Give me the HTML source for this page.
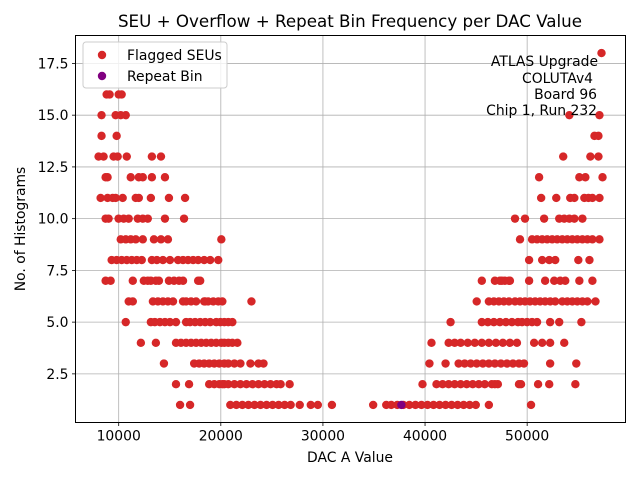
<!DOCTYPE html>
<html><head><meta charset="utf-8"><style>
html,body{margin:0;padding:0;background:#fff}
svg{display:block;font-family:"DejaVu Sans","Liberation Sans",sans-serif}
</style></head><body>
<svg id="chart" width="640" height="480" viewBox="0 0 640 480" xmlns="http://www.w3.org/2000/svg">
<rect x="0" y="0" width="640" height="480" fill="#fff"/>
<g id="grid"></g>
<g id="marks"></g>
<rect x="75.5" y="35.5" width="550" height="387" fill="none" stroke="#000" stroke-width="1"/>
<g id="ticks"></g>
<text x="350" y="27" text-anchor="middle" font-size="16.7">SEU + Overflow + Repeat Bin Frequency per DAC Value</text>
<text x="350" y="462" text-anchor="middle" font-size="13.9">DAC A Value</text>
<text x="0" y="0" transform="translate(25,229) rotate(-90)" text-anchor="middle" font-size="13.9">No. of Histograms</text>
<g font-size="13.9" text-anchor="end">
<text x="598" y="66">ATLAS Upgrade</text>
<text x="593" y="83">COLUTAv4</text>
<text x="597" y="99">Board 96</text>
<text x="597" y="115">Chip 1, Run 232</text>
</g>
<g>
<rect x="83" y="42" width="144" height="46" rx="3" fill="#fff" fill-opacity="0.8" stroke="#ccc"/>
<circle cx="102" cy="55" r="4.2" fill="#d62728"/>
<text x="127" y="60" font-size="13.9">Flagged SEUs</text>
<circle cx="102" cy="76" r="4.2" fill="#800080"/>
<text x="127" y="81" font-size="13.9">Repeat Bin</text>
</g>
</svg>
<script>
const xTicks = [10000, 20000, 30000, 40000, 50000];
const yTicks = [2.5, 5.0, 7.5, 10.0, 12.5, 15.0, 17.5];
const yTickLabels = ["2.5", "5.0", "7.5", "10.0", "12.5", "15.0", "17.5"];
const repeatDac = [37680];
const repeatCount = [1];
const seuPoints = [
[8820,16],[9110,16],[10000,16],[10290,16],
[8320,15],[9700,15],[10200,15],[10690,15],
[8320,14],[9800,14],
[8030,13],[8520,13],[9500,13],[9900,13],[10790,13],[13250,13],[14140,13],
[8720,12],[8910,12],[11180,12],[11970,12],[12360,12],[13250,12],[14530,12],
[8230,11],[8910,11],[9410,11],[9700,11],[10390,11],[11670,11],[11970,11],[13150,11],[14920,11],[16500,11],
[8720,10],[9010,10],[9990,10],[10490,10],[10980,10],[11870,10],[12360,10],[12850,10],[14530,10],[16400,10],
[10200,9],[10690,9],[11180,9],[11670,9],[12360,9],[13450,9],[14140,9],[14820,9],[20050,9],
[9310,8],[9800,8],[10290,8],[10790,8],[11280,8],[11770,8],[12260,8],[13250,8],[13740,8],[14330,8],[15020,8],[15810,8],[16300,8],[16790,8],[17290,8],[17780,8],[18370,8],[18960,8],[19750,8],
[8720,7],[9210,7],[11380,7],[12460,7],[12850,7],[13150,7],[13640,7],[13940,7],[14920,7],[15420,7],[15910,7],[16300,7],[17780,7],[17980,7],
[10980,6],[11380,6],[13350,6],[13840,6],[14330,6],[14820,6],[15320,6],[16300,6],[16600,6],[17090,6],[17580,6],[18370,6],[18760,6],[19260,6],[19750,6],[18470,6],[20150,6],[23000,6],
[10690,5],[13150,5],[13540,5],[14040,5],[14530,5],[15020,5],[15610,5],[16600,5],[16990,5],[17480,5],[17980,5],[18470,5],[18960,5],[19550,5],[19950,5],[20340,5],[20730,5],[21130,5],
[12170,4],[13640,4],[15610,4],[16100,4],[16600,4],[17090,4],[17580,4],[18080,4],[18570,4],[19060,4],[19550,4],[20050,4],[20340,4],[20730,4],[21130,4],[21620,4],
[14430,3],[17390,3],[17880,3],[18370,3],[18860,3],[19360,3],[19850,3],[20340,3],[20730,3],[21330,3],[21920,3],[22900,3],[23690,3],[24180,3],
[15610,2],[16890,2],[18860,2],[19360,2],[19850,2],[20340,2],[20150,2],[20730,2],[21330,2],[21920,2],[22510,2],[23100,2],[23690,2],[24280,2],[24870,2],[25460,2],[25860,2],[26740,2],
[16010,1],[16990,1],[20930,1],[21520,1],[22110,1],[22700,1],[23300,1],[23890,1],[24480,1],[25070,1],[25660,1],[26250,1],[26840,1],[27730,1],[28810,1],[29500,1],[30880,1],[34920,1],
[36200,1],[36690,1],[37280,1],[37870,1],[38460,1],[39060,1],[39650,1],[40240,1],[40830,1],[41420,1],[42010,1],[42600,1],[43190,1],[43780,1],[44370,1],[44970,1],[46250,1],[50380,1],
[39750,2],[41120,2],[41720,2],[42310,2],[42900,2],[43490,2],[44080,2],[44670,2],[45260,2],[45850,2],[46540,2],[47130,2],[46840,2],[49200,2],[49400,2],[51070,2],[52160,2],[54720,2],
[40430,3],[42010,3],[43290,3],[43880,3],[44470,3],[45060,3],[45660,3],[46250,3],[46840,3],[47430,3],[48020,3],[48610,3],[49200,3],[49690,3],[52250,3],[54810,3],
[40630,4],[42310,4],[42900,4],[43490,4],[44180,4],[44870,4],[45560,4],[46250,4],[46940,4],[47620,4],[48310,4],[49000,4],[50680,4],[51470,4],[52250,4],[53630,4],
[42500,5],[45560,5],[46150,5],[46740,5],[47330,5],[47920,5],[48510,5],[49100,5],[49500,5],[49990,5],[50480,5],[50970,5],[52250,5],[53140,5],[55310,5],
[45060,6],[46250,6],[46740,6],[47230,6],[47720,6],[48220,6],[48810,6],[49300,6],[49790,6],[50280,6],[50780,6],[51270,6],[51760,6],[52260,6],[52750,6],[53440,6],[53930,6],[54420,6],[54910,6],[55410,6],[55900,6],[56690,6],
[45560,7],[46840,7],[47330,7],[47820,7],[48310,7],[47530,7],[48220,7],[50190,7],[51760,7],[52650,7],[53240,7],[53730,7],[55110,7],[56390,7],
[50190,8],[51470,8],[52160,8],[52750,8],[55010,8],[56100,8],
[49300,9],[50480,9],[50970,9],[51470,9],[51960,9],[52450,9],[52940,9],[53440,9],[53930,9],[54420,9],[54910,9],[55410,9],[55900,9],[56390,9],[57080,9],
[48810,10],[49790,10],[51660,10],[53140,10],[53630,10],[54130,10],[54620,10],[55410,10],
[51370,11],[52850,11],[54220,11],[54620,11],[55600,11],[56000,11],[56390,11],[57080,11],
[51170,12],[55110,12],[55700,12],[57380,12],
[53530,13],[56190,13],[56980,13],
[56590,14],[56980,14],
[54130,15],[57080,15],
[57280,18]
];

const NS = "http://www.w3.org/2000/svg";
const L = 75.5, R = 625.5, T = 35.5, B = 422.5;
const xMin = 5770, xMax = 59630, yMin = 0.15, yMax = 18.85;
function xs(v){ return L + (v - xMin) / (xMax - xMin) * (R - L); }
function ys(v){ return B - (v - yMin) / (yMax - yMin) * (B - T); }

const grid = document.getElementById('grid');
const ticks = document.getElementById('ticks');
const marks = document.getElementById('marks');
function mk(tag, attrs, parent){ const e = document.createElementNS(NS, tag); for (const k in attrs) e.setAttribute(k, attrs[k]); parent.appendChild(e); return e; }

xTicks.forEach(function(v){
  const x = xs(v);
  const g = mk('line', {x1:x, x2:x, y1:T, y2:B, stroke:'#b0b0b0', 'stroke-width':0.8}, grid);
  
  
  const t = mk('line', {x1:x, x2:x, y1:B, y2:B+3.5, stroke:'#000', 'stroke-width':0.8}, ticks);
  
  
  const lb = mk('text', {x:x, y:B+18, 'text-anchor':'middle', 'font-size':13.9}, ticks);
  lb.textContent = String(v);
  
  
});
yTicks.forEach(function(v, i){
  const y = ys(v);
  const g = mk('line', {x1:L, x2:R, y1:y, y2:y, stroke:'#b0b0b0', 'stroke-width':0.8}, grid);
  
  
  const t = mk('line', {x1:L-3.5, x2:L, y1:y, y2:y, stroke:'#000', 'stroke-width':0.8}, ticks);
  
  
  const lb = mk('text', {x:L-7, y:y+5, 'text-anchor':'end', 'font-size':13.9}, ticks);
  lb.textContent = yTickLabels[i];
  
  
});
seuPoints.forEach(function(p){
  const c = mk('circle', {cx:xs(p[0]), cy:ys(p[1]), r:4.2, fill:'#d62728'}, marks);
  
  
});
repeatDac.forEach(function(d, i){
  const c = mk('circle', {cx:xs(d), cy:ys(repeatCount[i]), r:4.2, fill:'#800080'}, marks);
  
  
});
</script>
</body></html>
